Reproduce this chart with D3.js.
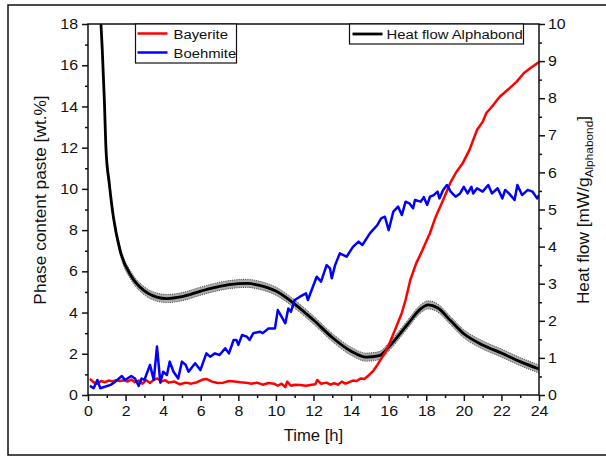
<!DOCTYPE html>
<html>
<head>
<meta charset="utf-8">
<script src="https://cdn.jsdelivr.net/npm/d3@7"></script>
<style>
    body { margin: 0; background: #fff; }
    text { font-family: "Liberation Sans", Arial, sans-serif; fill: #111; }
</style>
</head>
<body>
<div id="chart"></div>
<script>
// Data: [time h, value]
const bayerite = [[0.1,0.78],[0.3,0.62],[0.5,0.55],[0.7,0.68],[0.9,0.62],[1.1,0.7],[1.3,0.66],[1.5,0.72],[1.7,0.68],[1.9,0.72],
    [2.1,0.65],[2.3,0.75],[2.5,0.62],[2.7,0.7],[2.9,0.55],[3.1,0.72],[3.3,0.58],[3.5,0.75],[3.7,0.8],[3.9,0.65],[4.1,0.72],[4.3,0.6],
    [4.6,0.65],[4.9,0.52],[5.2,0.6],[5.5,0.55],[5.8,0.62],[6.1,0.75],[6.3,0.78],[6.6,0.65],[6.9,0.58],[7.2,0.6],[7.5,0.68],[7.8,0.65],
    [8.1,0.62],[8.4,0.6],[8.7,0.55],[9.0,0.6],[9.3,0.5],[9.6,0.58],[9.9,0.55],[10.1,0.45],[10.3,0.55],[10.5,0.38],[10.6,0.65],[10.8,0.45],
    [11.0,0.5],[11.3,0.49],[11.6,0.45],[11.9,0.5],[12.1,0.52],[12.2,0.73],[12.4,0.55],[12.7,0.6],[12.9,0.5],[13.1,0.57],[13.3,0.5],
    [13.5,0.65],[13.7,0.55],[13.9,0.62],[14.1,0.7],[14.3,0.68],[14.5,0.8],[14.7,0.78],[14.9,0.92],[15.2,1.2],[15.4,1.46],[15.6,1.75],
    [15.8,2.04],[16.05,2.52],[16.4,3.3],[16.7,3.98],[16.9,4.61],[17.15,5.58],[17.47,6.4],[17.8,7.03],[18.2,7.86],[18.5,8.64],[18.9,9.46],
    [19.3,10.33],[19.6,10.82],[19.95,11.26],[20.3,11.89],[20.7,12.86],[21.0,13.25],[21.2,13.68],[21.5,14.0],[21.9,14.46],[22.2,14.7],
    [22.45,14.9],[22.8,15.19],[23.2,15.62],[23.55,15.87],[24.0,16.16]];

const boehmite = [[0.1,0.44],[0.3,0.33],[0.5,0.73],[0.65,0.33],[0.9,0.4],[1.2,0.49],[1.45,0.65],[1.8,0.92],[1.97,0.73],[2.3,0.92],
    [2.5,0.8],[2.7,0.44],[2.85,0.8],[3.0,0.73],[3.3,1.46],[3.5,0.73],[3.67,2.35],[3.85,0.6],[4.0,1.13],[4.2,0.97],[4.35,1.62],[4.55,1.13],
    [4.8,0.8],[5.0,1.62],[5.2,1.46],[5.35,1.13],[5.7,1.54],[5.98,1.21],[6.3,2.02],[6.5,1.86],[6.75,2.02],[7.0,1.94],[7.3,2.27],[7.5,2.02],
    [7.75,2.67],[7.9,2.67],[8.0,2.43],[8.2,2.91],[8.45,2.83],[8.6,2.67],[8.8,3.0],[9.15,3.07],[9.3,3.0],[9.6,3.23],[9.95,3.23],[10.1,4.12],
    [10.3,3.8],[10.5,3.48],[10.66,4.2],[10.8,4.04],[11.0,4.61],[11.28,4.77],[11.6,4.93],[11.7,4.61],[12.17,5.74],[12.4,5.5],[12.7,6.3],
    [12.88,6.14],[12.97,5.66],[13.15,6.3],[13.4,6.87],[13.76,6.71],[14.1,7.19],[14.4,7.44],[14.6,7.28],[15.0,7.84],[15.4,8.25],[15.6,8.57],
    [15.8,8.65],[16.0,8.0],[16.25,8.9],[16.5,9.14],[16.7,8.73],[16.9,9.38],[17.1,9.3],[17.3,9.06],[17.4,9.46],[17.7,9.38],[17.87,9.6],
    [18.05,9.22],[18.2,9.62],[18.4,9.7],[18.6,9.87],[18.7,9.54],[18.9,9.95],[19.1,10.19],[19.3,9.87],[19.56,9.62],[19.8,9.78],[20.0,10.1],
    [20.2,9.78],[20.4,10.1],[20.5,9.78],[20.7,10.03],[21.0,9.87],[21.3,10.19],[21.5,9.78],[21.8,10.03],[22.05,9.54],[22.2,9.95],[22.4,9.78],
    [22.7,9.46],[22.85,10.19],[23.1,9.7],[23.4,9.95],[23.65,9.87],[23.9,9.54],[24.0,9.7]];

// heat flow, right axis
const heatFlow = [[0.55,11.5],[0.69,10.0],[0.76,9.3],[0.87,7.95],[0.96,6.6],[1.13,5.71],[1.35,4.8],[1.7,3.91],[2.33,3.18],[2.94,2.83],
    [3.66,2.64],[4.2,2.6],[5,2.65],[6,2.8],[7,2.93],[8,3.0],[8.5,3.01],[9,2.97],[10,2.8],[11,2.45],[12,2.02],[13,1.55],[14,1.18],
    [14.8,1.02],[15.5,1.06],[16,1.29],[17,1.9],[17.7,2.32],[18.1,2.43],[18.6,2.35],[19.3,2.0],[20,1.65],[21,1.35],[22,1.13],[23,0.9],[24,0.7]];
const heatBand = 0.11;

const xTicks = d3.range(0, 25, 2);
const yLeftTicks = d3.range(0, 19, 2);
const yRightTicks = d3.range(0, 11, 1);
const seriesNames = ['Bayerite', 'Boehmite'];
const seriesColors = ['#ff0000', '#0000ff'];
const heatName = 'Heat flow Alphabond';

var width = 606;
var height = 456;
var margin = { top: 24, right: 67, bottom: 61, left: 88 };
var innerW = width - margin.left - margin.right;
var innerH = height - margin.top - margin.bottom;
var WIDEN = 1.1; // the source font runs a little wide

const svg = d3.select('#chart').append('svg')
    .attr('width', width)
    .attr('height', height);

// outer frame
svg.append('rect')
    .attr('x', 8).attr('y', 5)
    .attr('width', 620).attr('height', 450)
    .attr('fill', 'none').attr('stroke', '#111').attr('stroke-width', 1.5);

const g = svg.append('g').attr('transform', `translate(${margin.left},${margin.top})`);

const x = d3.scaleLinear().domain([0, 24]).range([0, innerW]);
const yL = d3.scaleLinear().domain([0, 18]).range([innerH, 0]);
const yR = d3.scaleLinear().domain([0, 10]).range([innerH, 0]);

svg.append('defs').append('clipPath').attr('id', 'clip')
    .append('rect').attr('width', innerW).attr('height', innerH);

const plot = g.append('g').attr('clip-path', 'url(#clip)');

// heat flow band + line
const band = d3.area()
    .x(d => x(d[0]))
    .y0(d => yR(d[1] - heatBand))
    .y1(d => yR(d[1] + heatBand))
    .curve(d3.curveMonotoneX);
plot.append('path').datum(heatFlow)
    .attr('d', band).attr('fill', '#ababab');
[-heatBand, heatBand].forEach(off => {
    plot.append('path').datum(heatFlow)
        .attr('d', d3.line().x(d => x(d[0])).y(d => yR(d[1] + off)).curve(d3.curveMonotoneX))
        .attr('fill', 'none').attr('stroke', '#222').attr('stroke-width', 0.8)
        .attr('stroke-dasharray', '1,1.2');
});
plot.append('path').datum(heatFlow)
    .attr('d', d3.line().x(d => x(d[0])).y(d => yR(d[1])).curve(d3.curveMonotoneX))
    .attr('fill', 'none').attr('stroke', '#000').attr('stroke-width', 2.8);

// phase lines
const phaseLine = d3.line().x(d => x(d[0])).y(d => yL(d[1]));
[bayerite, boehmite].forEach((s, i) => {
    plot.append('path').datum(s)
        .attr('d', phaseLine)
        .attr('fill', 'none')
        .attr('stroke', seriesColors[i])
        .attr('stroke-width', 2.5)
        .attr('stroke-linejoin', 'round');
});

// stretch text sideways around its anchor
function widen(sel) {
    sel.each(function () {
        const t = d3.select(this);
        const x0 = +t.attr('x') || 0, y0 = +t.attr('y') || 0;
        t.attr('x', null).attr('y', null)
            .attr('transform', `translate(${x0},${y0}) scale(${WIDEN},1)`);
    });
}

// axes
function styleAxis(sel, fs) {
    sel.select('.domain').remove();
    sel.selectAll('.tick line').attr('stroke', '#111').attr('stroke-width', 1.5);
    sel.selectAll('.tick text').style('font-size', fs + 'px').attr('fill', '#111').call(widen);
}
function minor(axis, ticks, sel) {
    sel.call(axis.tickValues(ticks).tickSize(3).tickFormat(''))
        .call(s => s.select('.domain').remove())
        .selectAll('.tick line').attr('stroke', '#111').attr('stroke-width', 1.5);
}

const xAxisG = g.append('g').attr('transform', `translate(0,${innerH})`);
minor(d3.axisBottom(x), d3.range(1, 24, 2), xAxisG.append('g'));
xAxisG.append('g').call(d3.axisBottom(x).tickValues(xTicks).tickSize(6).tickPadding(5))
    .call(s => styleAxis(s, 14.5));

const yLG = g.append('g');
minor(d3.axisLeft(yL), d3.range(1, 18, 2), yLG.append('g'));
yLG.append('g').call(d3.axisLeft(yL).tickValues(yLeftTicks).tickSize(6).tickPadding(4))
    .call(s => styleAxis(s, 14.5));

const yRG = g.append('g').attr('transform', `translate(${innerW},0)`);
minor(d3.axisRight(yR), d3.range(0.5, 10, 1), yRG.append('g'));
yRG.append('g').call(d3.axisRight(yR).tickValues(yRightTicks).tickSize(6).tickPadding(3))
    .call(s => styleAxis(s, 14.5));

// plot box
g.append('rect')
    .attr('width', innerW).attr('height', innerH)
    .attr('fill', 'none').attr('stroke', '#111').attr('stroke-width', 1.5);

// axis titles
g.append('text')
    .attr('transform', `translate(${innerW / 2},${innerH + 46}) scale(1.04,1)`)
    .attr('text-anchor', 'middle').style('font-size', '16px')
    .text('Time [h]');
g.append('text')
    .attr('transform', `translate(${46 - margin.left},${200 - margin.top})rotate(-90) scale(1.08,1)`)
    .attr('text-anchor', 'middle').style('font-size', '16px')
    .text('Phase content paste [wt.%]');
const rt = g.append('text')
    .attr('transform', `translate(${589 - margin.left},${210 - margin.top})rotate(-90) scale(1.08,1)`)
    .attr('text-anchor', 'middle').style('font-size', '16px');
rt.append('tspan').text('Heat flow [mW/g');
rt.append('tspan').attr('dy', 4).style('font-size', '11px').text('Alphabond');
rt.append('tspan').attr('dy', -4).text(']');

// legend 1
const leg1 = svg.append('g').attr('transform', 'translate(135.5,24)');
leg1.append('rect').attr('width', 101).attr('height', 39)
    .attr('fill', '#fff').attr('stroke', '#111').attr('stroke-width', 1.2);
seriesNames.forEach((n, i) => {
    const row = leg1.append('g').attr('transform', `translate(0,${9.5 + i * 19})`);
    row.append('line').attr('x1', 2).attr('x2', 32)
        .attr('stroke', seriesColors[i]).attr('stroke-width', 2.5);
    row.append('text').attr('x', 38).attr('y', 5).style('font-size', '13.5px').text(n).call(widen);
});

// legend 2
const leg2 = svg.append('g').attr('transform', 'translate(349.5,24)');
leg2.append('rect').attr('width', 174).attr('height', 20)
    .attr('fill', '#fff').attr('stroke', '#111').attr('stroke-width', 1.2);
leg2.append('line').attr('x1', 3).attr('x2', 33).attr('y1', 10).attr('y2', 10)
    .attr('stroke', '#000').attr('stroke-width', 2.8);
leg2.append('text').attr('x', 37).attr('y', 15).style('font-size', '13.5px').text(heatName).call(widen);
</script>
</body>
</html>
